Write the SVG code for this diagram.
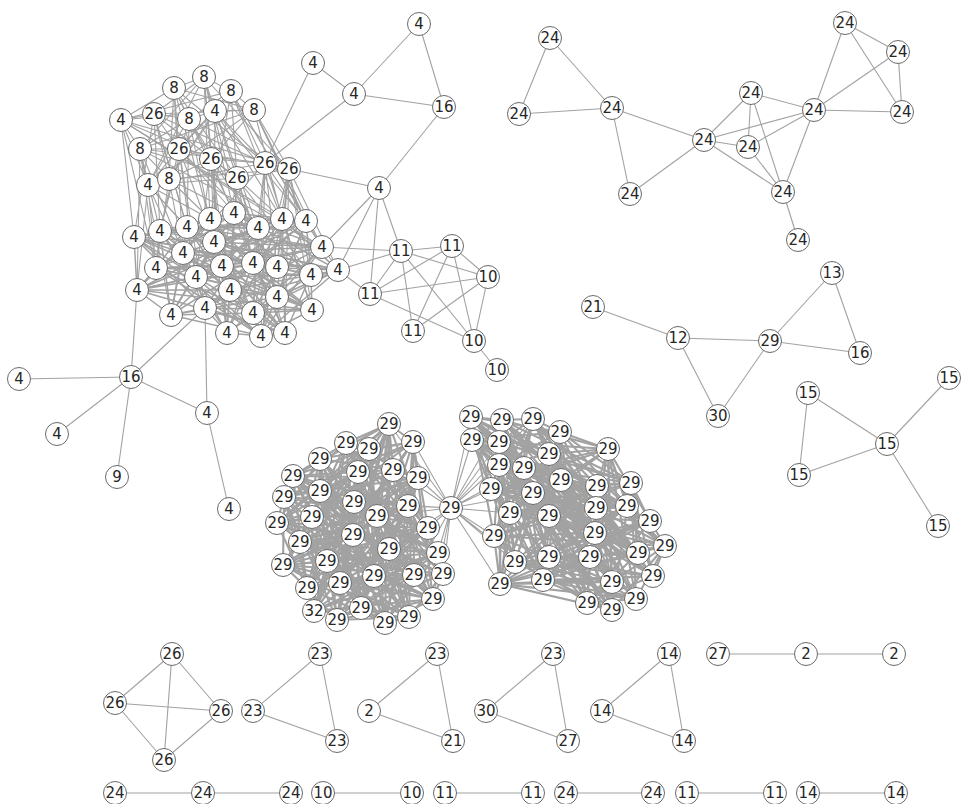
<svg xmlns="http://www.w3.org/2000/svg" width="962" height="804" viewBox="0 0 962 804">
<style>
.e line,.e path,.e polyline{stroke:#a2a2a2;stroke-width:1.1;fill:none}
.e .d{stroke-width:1.5}
.e .dd{stroke-width:2.1}
.node circle{fill:#fff;stroke:#6a6a6a;stroke-width:1}
.node text{font-family:"DejaVu Sans",sans-serif;font-size:15px;fill:#262626;text-anchor:middle;dominant-baseline:central}
</style>
<rect width="962" height="804" fill="#fff"/>
<g id="connectors" class="e">
<polyline points="174,88 204,77 231,91 121,120 154,114 189,119 215,111 254,110 140,149 179,149 211,159 265,163 289,169 237,178 148,185 169,179 174,88"/>
<polyline points="174,88 121,120 215,111 179,149 289,169 169,179 231,91 189,119 140,149 265,163 148,185 204,77 154,114 254,110 211,159 237,178 174,88"/>
<polyline points="174,88 189,119 211,159 169,179 154,114 179,149 148,185 121,120 140,149 237,178 231,91 254,110 289,169 204,77 215,111 265,163 174,88"/>
<polyline points="174,88 254,110 148,185 189,119 289,169 121,120 211,159 204,77 140,149 169,179 215,111 237,178 154,114 265,163 231,91 179,149 174,88"/>
<polyline class="d" points="234,213 210,219 282,219 306,221 187,227 258,228 160,231 134,237 214,242 322,247 183,253 338,270 253,263 277,267 222,266 156,268 311,275 196,277 137,290 230,290 277,297 312,310 205,308 171,315 253,313 227,333 261,336 285,333 234,213"/>
<polyline class="d" points="234,213 306,221 160,231 322,247 253,263 156,268 137,290 312,310 253,313 285,333 282,219 258,228 214,242 338,270 222,266 196,277 277,297 171,315 261,336 210,219 187,227 134,237 183,253 277,267 311,275 230,290 205,308 227,333 234,213"/>
<polyline class="d" points="234,213 258,228 183,253 156,268 277,297 227,333 282,219 134,237 253,263 196,277 205,308 285,333 187,227 322,247 222,266 230,290 253,313 210,219 160,231 338,270 311,275 312,310 261,336 306,221 214,242 277,267 137,290 171,315 234,213"/>
<polyline class="d" points="234,213 322,247 137,290 285,333 214,242 196,277 261,336 134,237 311,275 227,333 160,231 156,268 253,313 258,228 222,266 171,315 187,227 277,267 205,308 306,221 253,263 312,310 282,219 338,270 277,297 210,219 183,253 230,290 234,213"/>
<polyline class="d" points="234,213 338,270 205,308 258,228 311,275 285,333 183,253 312,310 187,227 156,268 261,336 322,247 277,297 306,221 222,266 227,333 214,242 230,290 282,219 277,267 253,313 134,237 137,290 210,219 253,263 171,315 160,231 196,277 234,213"/>
<polyline class="d" points="234,213 277,267 261,336 338,270 253,313 322,247 205,308 134,237 277,297 258,228 137,290 306,221 311,275 210,219 222,266 285,333 253,263 227,333 183,253 171,315 214,242 312,310 160,231 230,290 187,227 196,277 282,219 156,268 234,213"/>
<polyline points="174,88 234,213 204,77 210,219 231,91 282,219 121,120 134,237 154,114 187,227 189,119 258,228 215,111 306,221 254,110 322,247 140,149 160,231 179,149 214,242 211,159 253,263 265,163 277,267 289,169 311,275 237,178 222,266 148,185 156,268 169,179 183,253 265,163 338,270 289,169 277,297 237,178 230,290 211,159 196,277 179,149 205,308 148,185 137,290 140,149 171,315"/>
<polyline points="265,163 253,313 289,169 312,310 265,163 261,336 289,169 285,333 237,178 227,333 211,159 258,228 179,149 234,213 169,179 210,219 148,185 187,227 154,114 160,231 189,119 214,242 215,111 282,219 254,110 306,221 231,91 322,247 121,120 156,268 140,149 183,253 174,88 222,266 204,77 253,263 237,178 338,270"/>
<polyline class="dd" points="389,424 346,443 369,449 413,442 320,459 293,476 358,472 393,470 418,478 320,491 284,497 354,502 408,506 277,523 312,517 377,516 428,528 300,542 353,535 389,549 438,553 283,565 327,561 374,576 414,575 443,574 307,588 340,583 433,599 314,611 361,608 337,620 409,617 385,623 389,424"/>
<polyline class="dd" points="389,424 413,442 358,472 320,491 408,506 377,516 353,535 283,565 414,575 340,583 361,608 385,623 369,449 293,476 418,478 354,502 312,517 300,542 438,553 374,576 307,588 314,611 409,617 346,443 320,459 393,470 284,497 277,523 428,528 389,549 327,561 443,574 433,599 337,620 389,424"/>
<polyline class="dd" points="389,424 293,476 284,497 377,516 438,553 443,574 361,608 346,443 358,472 354,502 428,528 283,565 307,588 337,620 369,449 393,470 408,506 300,542 327,561 340,583 409,617 413,442 418,478 277,523 353,535 374,576 433,599 385,623 320,459 320,491 312,517 389,549 414,575 314,611 389,424"/>
<polyline class="dd" points="389,424 393,470 312,517 283,565 433,599 346,443 418,478 377,516 327,561 314,611 369,449 320,491 428,528 374,576 361,608 413,442 284,497 300,542 414,575 337,620 320,459 354,502 353,535 443,574 409,617 293,476 408,506 389,549 307,588 385,623 358,472 277,523 438,553 340,583 389,424"/>
<polyline class="dd" points="389,424 320,491 353,535 340,583 369,449 354,502 438,553 314,611 320,459 277,523 327,561 337,620 358,472 377,516 414,575 385,623 418,478 300,542 307,588 346,443 284,497 389,549 433,599 413,442 408,506 283,565 361,608 293,476 312,517 374,576 409,617 393,470 428,528 443,574 389,424"/>
<polyline class="dd" points="389,424 354,502 327,561 385,623 284,497 283,565 409,617 320,491 438,553 337,620 418,478 389,549 361,608 393,470 353,535 314,611 358,472 300,542 433,599 293,476 428,528 340,583 320,459 377,516 307,588 413,442 312,517 443,574 369,449 277,523 414,575 346,443 408,506 374,576 389,424"/>
<polyline class="dd" points="389,424 277,523 307,588 293,476 353,535 337,620 284,497 374,576 369,449 377,516 433,599 393,470 438,553 385,623 408,506 443,574 320,459 300,542 361,608 320,491 327,561 346,443 312,517 340,583 358,472 389,549 409,617 354,502 414,575 413,442 428,528 314,611 418,478 283,565 389,424"/>
<polyline class="dd" points="389,424 377,516 361,608 354,502 307,588 393,470 327,561 413,442 353,535 385,623 312,517 314,611 284,497 443,574 358,472 283,565 369,449 300,542 409,617 277,523 433,599 320,491 414,575 293,476 438,553 346,443 428,528 337,620 408,506 340,583 418,478 374,576 320,459 389,549 389,424"/>
<polyline class="dd" points="471,417 502,420 533,419 560,432 472,440 499,442 608,449 549,454 499,465 524,468 561,480 597,486 631,483 491,489 533,493 627,506 596,508 510,513 549,516 650,521 595,533 494,536 665,546 638,553 549,557 590,557 515,562 653,576 543,580 612,582 500,584 636,599 587,603 612,610 471,417"/>
<polyline class="dd" points="471,417 560,432 608,449 524,468 631,483 627,506 549,516 494,536 549,557 653,576 500,584 612,610 533,419 499,442 499,465 597,486 533,493 510,513 595,533 638,553 515,562 612,582 587,603 502,420 472,440 549,454 561,480 491,489 596,508 650,521 665,546 590,557 543,580 636,599 471,417"/>
<polyline class="dd" points="471,417 499,442 561,480 627,506 595,533 590,557 500,584 502,420 608,449 597,486 596,508 494,536 515,562 636,599 533,419 549,454 631,483 510,513 665,546 653,576 587,603 560,432 499,465 491,489 549,516 638,553 543,580 612,610 472,440 524,468 533,493 650,521 549,557 612,582 471,417"/>
<polyline class="dd" points="471,417 549,454 533,493 494,536 543,580 502,420 499,465 627,506 665,546 612,582 533,419 524,468 596,508 638,553 500,584 560,432 561,480 510,513 549,557 636,599 472,440 597,486 549,516 590,557 587,603 499,442 631,483 650,521 515,562 612,610 608,449 491,489 595,533 653,576 471,417"/>
<polyline class="dd" points="471,417 524,468 549,516 653,576 533,419 597,486 595,533 612,582 472,440 491,489 665,546 636,599 608,449 627,506 549,557 612,610 499,465 510,513 515,562 502,420 561,480 650,521 543,580 560,432 631,483 494,536 500,584 499,442 533,493 638,553 587,603 549,454 596,508 590,557 471,417"/>
<polyline class="dd" points="471,417 597,486 665,546 612,610 561,480 494,536 587,603 524,468 595,533 636,599 499,465 650,521 500,584 549,454 549,516 612,582 608,449 510,513 543,580 499,442 596,508 653,576 472,440 627,506 515,562 560,432 533,493 590,557 533,419 491,489 549,557 502,420 631,483 638,553 471,417"/>
<polyline class="dd" points="471,417 491,489 515,562 499,442 549,516 636,599 561,480 638,553 533,419 627,506 543,580 549,454 595,533 612,610 631,483 590,557 472,440 510,513 500,584 524,468 665,546 502,420 533,493 653,576 608,449 650,521 587,603 597,486 549,557 560,432 596,508 612,582 499,465 494,536 471,417"/>
<polyline class="dd" points="471,417 627,506 500,584 597,486 515,562 549,454 665,546 560,432 549,516 612,610 533,493 612,582 561,480 590,557 608,449 494,536 533,419 510,513 587,603 491,489 543,580 524,468 549,557 499,442 595,533 502,420 596,508 636,599 631,483 653,576 499,465 638,553 472,440 650,521 471,417"/>
<path d="M451,508L413,442M451,508L418,478M451,508L408,506M451,508L428,528M451,508L438,553M451,508L443,574M451,508L393,470M451,508L389,424M451,508L377,516M451,508L389,549M451,508L414,575M451,508L433,599M451,508L354,502M451,508L471,417M451,508L472,440M451,508L499,442M451,508L499,465M451,508L491,489M451,508L510,513M451,508L494,536M451,508L515,562M451,508L500,584M451,508L502,420M451,508L524,468M451,508L533,493M451,508L533,419M451,508L543,580"/>
<line x1="313" y1="63" x2="265" y2="163"/>
<line x1="354" y1="94" x2="265" y2="163"/>
<line x1="313" y1="63" x2="354" y2="94"/>
<line x1="354" y1="94" x2="419" y2="24"/>
<line x1="354" y1="94" x2="444" y2="107"/>
<line x1="419" y1="24" x2="444" y2="107"/>
<line x1="444" y1="107" x2="379" y2="188"/>
<line x1="289" y1="169" x2="379" y2="188"/>
<line x1="379" y1="188" x2="322" y2="247"/>
<line x1="379" y1="188" x2="338" y2="270"/>
<line x1="379" y1="188" x2="401" y2="251"/>
<line x1="379" y1="188" x2="370" y2="294"/>
<line x1="322" y1="247" x2="401" y2="251"/>
<line x1="338" y1="270" x2="401" y2="251"/>
<line x1="338" y1="270" x2="370" y2="294"/>
<line x1="401" y1="251" x2="452" y2="246"/>
<line x1="401" y1="251" x2="488" y2="277"/>
<line x1="401" y1="251" x2="370" y2="294"/>
<line x1="401" y1="251" x2="413" y2="331"/>
<line x1="401" y1="251" x2="474" y2="341"/>
<line x1="452" y1="246" x2="488" y2="277"/>
<line x1="452" y1="246" x2="474" y2="341"/>
<line x1="452" y1="246" x2="413" y2="331"/>
<line x1="452" y1="246" x2="370" y2="294"/>
<line x1="370" y1="294" x2="488" y2="277"/>
<line x1="370" y1="294" x2="474" y2="341"/>
<line x1="413" y1="331" x2="488" y2="277"/>
<line x1="488" y1="277" x2="474" y2="341"/>
<line x1="474" y1="341" x2="497" y2="370"/>
<line x1="131" y1="377" x2="19" y2="379"/>
<line x1="131" y1="377" x2="57" y2="434"/>
<line x1="131" y1="377" x2="117" y2="477"/>
<line x1="131" y1="377" x2="207" y2="413"/>
<line x1="131" y1="377" x2="137" y2="290"/>
<line x1="131" y1="377" x2="205" y2="308"/>
<line x1="207" y1="413" x2="205" y2="308"/>
<line x1="207" y1="413" x2="229" y2="509"/>
<line x1="550" y1="38" x2="519" y2="114"/>
<line x1="550" y1="38" x2="612" y2="108"/>
<line x1="519" y1="114" x2="612" y2="108"/>
<line x1="612" y1="108" x2="704" y2="140"/>
<line x1="612" y1="108" x2="630" y2="194"/>
<line x1="630" y1="194" x2="704" y2="140"/>
<line x1="751" y1="93" x2="704" y2="140"/>
<line x1="751" y1="93" x2="814" y2="110"/>
<line x1="751" y1="93" x2="748" y2="147"/>
<line x1="751" y1="93" x2="783" y2="192"/>
<line x1="704" y1="140" x2="814" y2="110"/>
<line x1="704" y1="140" x2="748" y2="147"/>
<line x1="704" y1="140" x2="783" y2="192"/>
<line x1="748" y1="147" x2="814" y2="110"/>
<line x1="748" y1="147" x2="783" y2="192"/>
<line x1="814" y1="110" x2="783" y2="192"/>
<line x1="814" y1="110" x2="845" y2="23"/>
<line x1="814" y1="110" x2="898" y2="52"/>
<line x1="814" y1="110" x2="902" y2="112"/>
<line x1="845" y1="23" x2="898" y2="52"/>
<line x1="845" y1="23" x2="902" y2="112"/>
<line x1="898" y1="52" x2="902" y2="112"/>
<line x1="783" y1="192" x2="798" y2="240"/>
<line x1="593" y1="307" x2="678" y2="338"/>
<line x1="678" y1="338" x2="770" y2="341"/>
<line x1="678" y1="338" x2="718" y2="416"/>
<line x1="718" y1="416" x2="770" y2="341"/>
<line x1="770" y1="341" x2="832" y2="273"/>
<line x1="770" y1="341" x2="860" y2="353"/>
<line x1="832" y1="273" x2="860" y2="353"/>
<line x1="808" y1="393" x2="799" y2="475"/>
<line x1="808" y1="393" x2="887" y2="444"/>
<line x1="799" y1="475" x2="887" y2="444"/>
<line x1="887" y1="444" x2="949" y2="378"/>
<line x1="887" y1="444" x2="938" y2="526"/>
<line x1="172" y1="654" x2="115" y2="703"/>
<line x1="172" y1="654" x2="221" y2="711"/>
<line x1="172" y1="654" x2="164" y2="760"/>
<line x1="115" y1="703" x2="221" y2="711"/>
<line x1="115" y1="703" x2="164" y2="760"/>
<line x1="221" y1="711" x2="164" y2="760"/>
<line x1="320" y1="654" x2="253" y2="711"/>
<line x1="320" y1="654" x2="337" y2="741"/>
<line x1="253" y1="711" x2="337" y2="741"/>
<line x1="437" y1="654" x2="369" y2="711"/>
<line x1="437" y1="654" x2="453" y2="741"/>
<line x1="369" y1="711" x2="453" y2="741"/>
<line x1="553" y1="654" x2="486" y2="711"/>
<line x1="553" y1="654" x2="568" y2="741"/>
<line x1="486" y1="711" x2="568" y2="741"/>
<line x1="669" y1="654" x2="602" y2="711"/>
<line x1="669" y1="654" x2="684" y2="741"/>
<line x1="602" y1="711" x2="684" y2="741"/>
<line x1="718" y1="654" x2="806" y2="654"/>
<line x1="806" y1="654" x2="894" y2="654"/>
<line x1="115" y1="793" x2="203" y2="793"/>
<line x1="203" y1="793" x2="291" y2="793"/>
<line x1="323" y1="793" x2="412" y2="793"/>
<line x1="445" y1="793" x2="533" y2="793"/>
<line x1="566" y1="793" x2="653" y2="793"/>
<line x1="687" y1="793" x2="775" y2="793"/>
<line x1="808" y1="793" x2="896" y2="793"/>
</g>
<g id="nodes">
<g id="t0" class="node" transform="translate(174 88)"><circle r="11.5"/><text>8</text></g>
<g id="t1" class="node" transform="translate(204 77)"><circle r="11.5"/><text>8</text></g>
<g id="t2" class="node" transform="translate(231 91)"><circle r="11.5"/><text>8</text></g>
<g id="t3" class="node" transform="translate(121 120)"><circle r="11.5"/><text>4</text></g>
<g id="t4" class="node" transform="translate(154 114)"><circle r="11.5"/><text>26</text></g>
<g id="t5" class="node" transform="translate(189 119)"><circle r="11.5"/><text>8</text></g>
<g id="t6" class="node" transform="translate(215 111)"><circle r="11.5"/><text>4</text></g>
<g id="t7" class="node" transform="translate(254 110)"><circle r="11.5"/><text>8</text></g>
<g id="t8" class="node" transform="translate(140 149)"><circle r="11.5"/><text>8</text></g>
<g id="t9" class="node" transform="translate(179 149)"><circle r="11.5"/><text>26</text></g>
<g id="t10" class="node" transform="translate(211 159)"><circle r="11.5"/><text>26</text></g>
<g id="t11" class="node" transform="translate(265 163)"><circle r="11.5"/><text>26</text></g>
<g id="t12" class="node" transform="translate(289 169)"><circle r="11.5"/><text>26</text></g>
<g id="t13" class="node" transform="translate(237 178)"><circle r="11.5"/><text>26</text></g>
<g id="t14" class="node" transform="translate(148 185)"><circle r="11.5"/><text>4</text></g>
<g id="t15" class="node" transform="translate(169 179)"><circle r="11.5"/><text>8</text></g>
<g id="b0" class="node" transform="translate(234 213)"><circle r="11.5"/><text>4</text></g>
<g id="b1" class="node" transform="translate(210 219)"><circle r="11.5"/><text>4</text></g>
<g id="b2" class="node" transform="translate(282 219)"><circle r="11.5"/><text>4</text></g>
<g id="b3" class="node" transform="translate(306 221)"><circle r="11.5"/><text>4</text></g>
<g id="b4" class="node" transform="translate(187 227)"><circle r="11.5"/><text>4</text></g>
<g id="b5" class="node" transform="translate(258 228)"><circle r="11.5"/><text>4</text></g>
<g id="b6" class="node" transform="translate(160 231)"><circle r="11.5"/><text>4</text></g>
<g id="b7" class="node" transform="translate(134 237)"><circle r="11.5"/><text>4</text></g>
<g id="b8" class="node" transform="translate(214 242)"><circle r="11.5"/><text>4</text></g>
<g id="b9" class="node" transform="translate(322 247)"><circle r="11.5"/><text>4</text></g>
<g id="b10" class="node" transform="translate(183 253)"><circle r="11.5"/><text>4</text></g>
<g id="b11" class="node" transform="translate(338 270)"><circle r="11.5"/><text>4</text></g>
<g id="b12" class="node" transform="translate(253 263)"><circle r="11.5"/><text>4</text></g>
<g id="b13" class="node" transform="translate(277 267)"><circle r="11.5"/><text>4</text></g>
<g id="b14" class="node" transform="translate(222 266)"><circle r="11.5"/><text>4</text></g>
<g id="b15" class="node" transform="translate(156 268)"><circle r="11.5"/><text>4</text></g>
<g id="b16" class="node" transform="translate(311 275)"><circle r="11.5"/><text>4</text></g>
<g id="b17" class="node" transform="translate(196 277)"><circle r="11.5"/><text>4</text></g>
<g id="b18" class="node" transform="translate(137 290)"><circle r="11.5"/><text>4</text></g>
<g id="b19" class="node" transform="translate(230 290)"><circle r="11.5"/><text>4</text></g>
<g id="b20" class="node" transform="translate(277 297)"><circle r="11.5"/><text>4</text></g>
<g id="b21" class="node" transform="translate(312 310)"><circle r="11.5"/><text>4</text></g>
<g id="b22" class="node" transform="translate(205 308)"><circle r="11.5"/><text>4</text></g>
<g id="b23" class="node" transform="translate(171 315)"><circle r="11.5"/><text>4</text></g>
<g id="b24" class="node" transform="translate(253 313)"><circle r="11.5"/><text>4</text></g>
<g id="b25" class="node" transform="translate(227 333)"><circle r="11.5"/><text>4</text></g>
<g id="b26" class="node" transform="translate(261 336)"><circle r="11.5"/><text>4</text></g>
<g id="b27" class="node" transform="translate(285 333)"><circle r="11.5"/><text>4</text></g>
<g id="m0" class="node" transform="translate(313 63)"><circle r="11.5"/><text>4</text></g>
<g id="m1" class="node" transform="translate(354 94)"><circle r="11.5"/><text>4</text></g>
<g id="m2" class="node" transform="translate(419 24)"><circle r="11.5"/><text>4</text></g>
<g id="m3" class="node" transform="translate(444 107)"><circle r="11.5"/><text>16</text></g>
<g id="m4" class="node" transform="translate(379 188)"><circle r="11.5"/><text>4</text></g>
<g id="k0" class="node" transform="translate(401 251)"><circle r="11.5"/><text>11</text></g>
<g id="k1" class="node" transform="translate(452 246)"><circle r="11.5"/><text>11</text></g>
<g id="k2" class="node" transform="translate(488 277)"><circle r="11.5"/><text>10</text></g>
<g id="k3" class="node" transform="translate(370 294)"><circle r="11.5"/><text>11</text></g>
<g id="k4" class="node" transform="translate(413 331)"><circle r="11.5"/><text>11</text></g>
<g id="k5" class="node" transform="translate(474 341)"><circle r="11.5"/><text>10</text></g>
<g id="k6" class="node" transform="translate(497 370)"><circle r="11.5"/><text>10</text></g>
<g id="s0" class="node" transform="translate(131 377)"><circle r="11.5"/><text>16</text></g>
<g id="s1" class="node" transform="translate(19 379)"><circle r="11.5"/><text>4</text></g>
<g id="s2" class="node" transform="translate(57 434)"><circle r="11.5"/><text>4</text></g>
<g id="s3" class="node" transform="translate(117 477)"><circle r="11.5"/><text>9</text></g>
<g id="s4" class="node" transform="translate(207 413)"><circle r="11.5"/><text>4</text></g>
<g id="s5" class="node" transform="translate(229 509)"><circle r="11.5"/><text>4</text></g>
<g id="L0" class="node" transform="translate(389 424)"><circle r="11.5"/><text>29</text></g>
<g id="L1" class="node" transform="translate(346 443)"><circle r="11.5"/><text>29</text></g>
<g id="L2" class="node" transform="translate(369 449)"><circle r="11.5"/><text>29</text></g>
<g id="L3" class="node" transform="translate(413 442)"><circle r="11.5"/><text>29</text></g>
<g id="L4" class="node" transform="translate(320 459)"><circle r="11.5"/><text>29</text></g>
<g id="L5" class="node" transform="translate(293 476)"><circle r="11.5"/><text>29</text></g>
<g id="L6" class="node" transform="translate(358 472)"><circle r="11.5"/><text>29</text></g>
<g id="L7" class="node" transform="translate(393 470)"><circle r="11.5"/><text>29</text></g>
<g id="L8" class="node" transform="translate(418 478)"><circle r="11.5"/><text>29</text></g>
<g id="L9" class="node" transform="translate(320 491)"><circle r="11.5"/><text>29</text></g>
<g id="L10" class="node" transform="translate(284 497)"><circle r="11.5"/><text>29</text></g>
<g id="L11" class="node" transform="translate(354 502)"><circle r="11.5"/><text>29</text></g>
<g id="L12" class="node" transform="translate(408 506)"><circle r="11.5"/><text>29</text></g>
<g id="L13" class="node" transform="translate(277 523)"><circle r="11.5"/><text>29</text></g>
<g id="L14" class="node" transform="translate(312 517)"><circle r="11.5"/><text>29</text></g>
<g id="L15" class="node" transform="translate(377 516)"><circle r="11.5"/><text>29</text></g>
<g id="L16" class="node" transform="translate(428 528)"><circle r="11.5"/><text>29</text></g>
<g id="L17" class="node" transform="translate(300 542)"><circle r="11.5"/><text>29</text></g>
<g id="L18" class="node" transform="translate(353 535)"><circle r="11.5"/><text>29</text></g>
<g id="L19" class="node" transform="translate(389 549)"><circle r="11.5"/><text>29</text></g>
<g id="L20" class="node" transform="translate(438 553)"><circle r="11.5"/><text>29</text></g>
<g id="L21" class="node" transform="translate(283 565)"><circle r="11.5"/><text>29</text></g>
<g id="L22" class="node" transform="translate(327 561)"><circle r="11.5"/><text>29</text></g>
<g id="L23" class="node" transform="translate(374 576)"><circle r="11.5"/><text>29</text></g>
<g id="L24" class="node" transform="translate(414 575)"><circle r="11.5"/><text>29</text></g>
<g id="L25" class="node" transform="translate(443 574)"><circle r="11.5"/><text>29</text></g>
<g id="L26" class="node" transform="translate(307 588)"><circle r="11.5"/><text>29</text></g>
<g id="L27" class="node" transform="translate(340 583)"><circle r="11.5"/><text>29</text></g>
<g id="L28" class="node" transform="translate(433 599)"><circle r="11.5"/><text>29</text></g>
<g id="L29" class="node" transform="translate(314 611)"><circle r="11.5"/><text>32</text></g>
<g id="L30" class="node" transform="translate(361 608)"><circle r="11.5"/><text>29</text></g>
<g id="L31" class="node" transform="translate(337 620)"><circle r="11.5"/><text>29</text></g>
<g id="L32" class="node" transform="translate(409 617)"><circle r="11.5"/><text>29</text></g>
<g id="L33" class="node" transform="translate(385 623)"><circle r="11.5"/><text>29</text></g>
<g id="hub" class="node" transform="translate(451 508)"><circle r="11.5"/><text>29</text></g>
<g id="R0" class="node" transform="translate(471 417)"><circle r="11.5"/><text>29</text></g>
<g id="R1" class="node" transform="translate(502 420)"><circle r="11.5"/><text>29</text></g>
<g id="R2" class="node" transform="translate(533 419)"><circle r="11.5"/><text>29</text></g>
<g id="R3" class="node" transform="translate(560 432)"><circle r="11.5"/><text>29</text></g>
<g id="R4" class="node" transform="translate(472 440)"><circle r="11.5"/><text>29</text></g>
<g id="R5" class="node" transform="translate(499 442)"><circle r="11.5"/><text>29</text></g>
<g id="R6" class="node" transform="translate(608 449)"><circle r="11.5"/><text>29</text></g>
<g id="R7" class="node" transform="translate(549 454)"><circle r="11.5"/><text>29</text></g>
<g id="R8" class="node" transform="translate(499 465)"><circle r="11.5"/><text>29</text></g>
<g id="R9" class="node" transform="translate(524 468)"><circle r="11.5"/><text>29</text></g>
<g id="R10" class="node" transform="translate(561 480)"><circle r="11.5"/><text>29</text></g>
<g id="R11" class="node" transform="translate(597 486)"><circle r="11.5"/><text>29</text></g>
<g id="R12" class="node" transform="translate(631 483)"><circle r="11.5"/><text>29</text></g>
<g id="R13" class="node" transform="translate(491 489)"><circle r="11.5"/><text>29</text></g>
<g id="R14" class="node" transform="translate(533 493)"><circle r="11.5"/><text>29</text></g>
<g id="R15" class="node" transform="translate(627 506)"><circle r="11.5"/><text>29</text></g>
<g id="R16" class="node" transform="translate(596 508)"><circle r="11.5"/><text>29</text></g>
<g id="R17" class="node" transform="translate(510 513)"><circle r="11.5"/><text>29</text></g>
<g id="R18" class="node" transform="translate(549 516)"><circle r="11.5"/><text>29</text></g>
<g id="R19" class="node" transform="translate(650 521)"><circle r="11.5"/><text>29</text></g>
<g id="R20" class="node" transform="translate(595 533)"><circle r="11.5"/><text>29</text></g>
<g id="R21" class="node" transform="translate(494 536)"><circle r="11.5"/><text>29</text></g>
<g id="R22" class="node" transform="translate(665 546)"><circle r="11.5"/><text>29</text></g>
<g id="R23" class="node" transform="translate(638 553)"><circle r="11.5"/><text>29</text></g>
<g id="R24" class="node" transform="translate(549 557)"><circle r="11.5"/><text>29</text></g>
<g id="R25" class="node" transform="translate(590 557)"><circle r="11.5"/><text>29</text></g>
<g id="R26" class="node" transform="translate(515 562)"><circle r="11.5"/><text>29</text></g>
<g id="R27" class="node" transform="translate(653 576)"><circle r="11.5"/><text>29</text></g>
<g id="R28" class="node" transform="translate(543 580)"><circle r="11.5"/><text>29</text></g>
<g id="R29" class="node" transform="translate(612 582)"><circle r="11.5"/><text>29</text></g>
<g id="R30" class="node" transform="translate(500 584)"><circle r="11.5"/><text>29</text></g>
<g id="R31" class="node" transform="translate(636 599)"><circle r="11.5"/><text>29</text></g>
<g id="R32" class="node" transform="translate(587 603)"><circle r="11.5"/><text>29</text></g>
<g id="R33" class="node" transform="translate(612 610)"><circle r="11.5"/><text>29</text></g>
<g id="y0" class="node" transform="translate(550 38)"><circle r="11.5"/><text>24</text></g>
<g id="y1" class="node" transform="translate(519 114)"><circle r="11.5"/><text>24</text></g>
<g id="y2" class="node" transform="translate(612 108)"><circle r="11.5"/><text>24</text></g>
<g id="y3" class="node" transform="translate(704 140)"><circle r="11.5"/><text>24</text></g>
<g id="y4" class="node" transform="translate(630 194)"><circle r="11.5"/><text>24</text></g>
<g id="y5" class="node" transform="translate(751 93)"><circle r="11.5"/><text>24</text></g>
<g id="y6" class="node" transform="translate(748 147)"><circle r="11.5"/><text>24</text></g>
<g id="y7" class="node" transform="translate(814 110)"><circle r="11.5"/><text>24</text></g>
<g id="y8" class="node" transform="translate(845 23)"><circle r="11.5"/><text>24</text></g>
<g id="y9" class="node" transform="translate(898 52)"><circle r="11.5"/><text>24</text></g>
<g id="y10" class="node" transform="translate(902 112)"><circle r="11.5"/><text>24</text></g>
<g id="y11" class="node" transform="translate(783 192)"><circle r="11.5"/><text>24</text></g>
<g id="y12" class="node" transform="translate(798 240)"><circle r="11.5"/><text>24</text></g>
<g id="p0" class="node" transform="translate(593 307)"><circle r="11.5"/><text>21</text></g>
<g id="p1" class="node" transform="translate(678 338)"><circle r="11.5"/><text>12</text></g>
<g id="p2" class="node" transform="translate(770 341)"><circle r="11.5"/><text>29</text></g>
<g id="p3" class="node" transform="translate(832 273)"><circle r="11.5"/><text>13</text></g>
<g id="p4" class="node" transform="translate(860 353)"><circle r="11.5"/><text>16</text></g>
<g id="p5" class="node" transform="translate(718 416)"><circle r="11.5"/><text>30</text></g>
<g id="f0" class="node" transform="translate(808 393)"><circle r="11.5"/><text>15</text></g>
<g id="f1" class="node" transform="translate(887 444)"><circle r="11.5"/><text>15</text></g>
<g id="f2" class="node" transform="translate(799 475)"><circle r="11.5"/><text>15</text></g>
<g id="f3" class="node" transform="translate(949 378)"><circle r="11.5"/><text>15</text></g>
<g id="f4" class="node" transform="translate(938 526)"><circle r="11.5"/><text>15</text></g>
<g id="c0" class="node" transform="translate(172 654)"><circle r="11.5"/><text>26</text></g>
<g id="c1" class="node" transform="translate(115 703)"><circle r="11.5"/><text>26</text></g>
<g id="c2" class="node" transform="translate(221 711)"><circle r="11.5"/><text>26</text></g>
<g id="c3" class="node" transform="translate(164 760)"><circle r="11.5"/><text>26</text></g>
<g id="d0" class="node" transform="translate(320 654)"><circle r="11.5"/><text>23</text></g>
<g id="d1" class="node" transform="translate(253 711)"><circle r="11.5"/><text>23</text></g>
<g id="d2" class="node" transform="translate(337 741)"><circle r="11.5"/><text>23</text></g>
<g id="g0" class="node" transform="translate(437 654)"><circle r="11.5"/><text>23</text></g>
<g id="g1" class="node" transform="translate(369 711)"><circle r="11.5"/><text>2</text></g>
<g id="g2" class="node" transform="translate(453 741)"><circle r="11.5"/><text>21</text></g>
<g id="h0" class="node" transform="translate(553 654)"><circle r="11.5"/><text>23</text></g>
<g id="h1" class="node" transform="translate(486 711)"><circle r="11.5"/><text>30</text></g>
<g id="h2" class="node" transform="translate(568 741)"><circle r="11.5"/><text>27</text></g>
<g id="i0" class="node" transform="translate(669 654)"><circle r="11.5"/><text>14</text></g>
<g id="i1" class="node" transform="translate(602 711)"><circle r="11.5"/><text>14</text></g>
<g id="i2" class="node" transform="translate(684 741)"><circle r="11.5"/><text>14</text></g>
<g id="j0" class="node" transform="translate(718 654)"><circle r="11.5"/><text>27</text></g>
<g id="j1" class="node" transform="translate(806 654)"><circle r="11.5"/><text>2</text></g>
<g id="j2" class="node" transform="translate(894 654)"><circle r="11.5"/><text>2</text></g>
<g id="r0" class="node" transform="translate(115 793)"><circle r="11.5"/><text>24</text></g>
<g id="r1" class="node" transform="translate(203 793)"><circle r="11.5"/><text>24</text></g>
<g id="r2" class="node" transform="translate(291 793)"><circle r="11.5"/><text>24</text></g>
<g id="r3" class="node" transform="translate(323 793)"><circle r="11.5"/><text>10</text></g>
<g id="r4" class="node" transform="translate(412 793)"><circle r="11.5"/><text>10</text></g>
<g id="r5" class="node" transform="translate(445 793)"><circle r="11.5"/><text>11</text></g>
<g id="r6" class="node" transform="translate(533 793)"><circle r="11.5"/><text>11</text></g>
<g id="r7" class="node" transform="translate(566 793)"><circle r="11.5"/><text>24</text></g>
<g id="r8" class="node" transform="translate(653 793)"><circle r="11.5"/><text>24</text></g>
<g id="r9" class="node" transform="translate(687 793)"><circle r="11.5"/><text>11</text></g>
<g id="r10" class="node" transform="translate(775 793)"><circle r="11.5"/><text>11</text></g>
<g id="r11" class="node" transform="translate(808 793)"><circle r="11.5"/><text>14</text></g>
<g id="r12" class="node" transform="translate(896 793)"><circle r="11.5"/><text>14</text></g>
</g>
</svg>
